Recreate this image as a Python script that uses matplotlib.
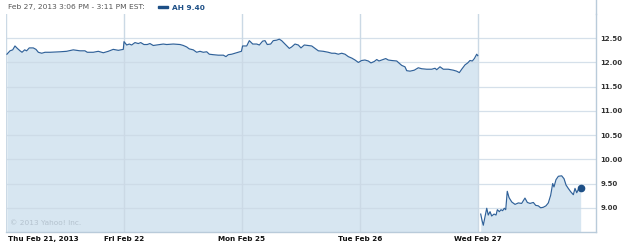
import matplotlib
matplotlib.use("Agg")
import matplotlib.pyplot as plt
from matplotlib.lines import Line2D
from matplotlib.patches import Rectangle

# ---- data ----
day_labels = ["Thu Feb 21, 2013", "Fri Feb 22", "Mon Feb 25", "Tue Feb 26", "Wed Feb 27"]
day_ticks = [0, 1, 2, 3, 4]
y_ticks = [9.00, 9.50, 10.00, 10.50, 11.00, 11.50, 12.00, 12.50]

# x = trading days since Thu open
thu_t = [0.008, 0.034, 0.057, 0.076, 0.096, 0.119, 0.136, 0.158, 0.175, 0.197,
         0.231, 0.254, 0.274, 0.303, 0.331, 0.373, 0.458, 0.514, 0.570, 0.627,
         0.669, 0.689, 0.740, 0.782, 0.825, 0.867, 0.909, 0.952, 0.994]
thu_p = [12.17, 12.24, 12.26, 12.34, 12.29, 12.24, 12.21, 12.26, 12.24, 12.30,
         12.30, 12.27, 12.21, 12.19, 12.21, 12.21, 12.22, 12.23, 12.26, 12.24,
         12.24, 12.21, 12.21, 12.23, 12.20, 12.23, 12.27, 12.25, 12.27]

fri_t = [1.000, 1.023, 1.045, 1.065, 1.093, 1.121, 1.142, 1.169, 1.197, 1.220,
         1.248, 1.277, 1.305, 1.333, 1.362, 1.418, 1.475, 1.503, 1.531, 1.553,
         1.587, 1.616, 1.644, 1.672, 1.701, 1.723, 1.757, 1.799, 1.842, 1.864,
         1.884, 1.913, 1.941, 1.983, 1.995]
fri_p = [12.43, 12.36, 12.38, 12.36, 12.41, 12.39, 12.41, 12.37, 12.37, 12.39,
         12.35, 12.36, 12.37, 12.38, 12.37, 12.38, 12.37, 12.35, 12.32, 12.28,
         12.26, 12.21, 12.23, 12.21, 12.22, 12.17, 12.16, 12.15, 12.15, 12.12,
         12.16, 12.17, 12.19, 12.22, 12.23]

mon_t = [2.005, 2.040, 2.062, 2.091, 2.125, 2.147, 2.175, 2.195, 2.214, 2.243,
         2.265, 2.294, 2.316, 2.336, 2.364, 2.401, 2.421, 2.449, 2.477, 2.500,
         2.528, 2.562, 2.591, 2.619, 2.647, 2.689, 2.731, 2.760, 2.788, 2.816,
         2.845, 2.873, 2.901, 2.930, 2.958, 2.986]
mon_p = [12.34, 12.34, 12.45, 12.38, 12.38, 12.36, 12.44, 12.45, 12.37, 12.38,
         12.45, 12.46, 12.48, 12.45, 12.38, 12.29, 12.32, 12.38, 12.36, 12.30,
         12.36, 12.35, 12.34, 12.29, 12.24, 12.23, 12.21, 12.19, 12.19, 12.17,
         12.19, 12.17, 12.12, 12.09, 12.05, 12.00]

tue_t = [3.014, 3.042, 3.070, 3.093, 3.121, 3.142, 3.161, 3.184, 3.218, 3.240,
         3.269, 3.311, 3.325, 3.353, 3.381, 3.396, 3.424, 3.460, 3.494, 3.523,
         3.565, 3.608, 3.636, 3.650, 3.678, 3.706, 3.748, 3.791, 3.819, 3.842,
         3.862, 3.890, 3.913, 3.932, 3.952, 3.969, 3.989, 3.998]
tue_p = [12.04, 12.05, 12.03, 11.99, 12.02, 12.06, 12.03, 12.05, 12.08, 12.05,
         12.04, 12.03, 12.00, 11.94, 11.91, 11.83, 11.82, 11.84, 11.89, 11.87,
         11.86, 11.86, 11.88, 11.85, 11.91, 11.86, 11.86, 11.84, 11.82, 11.79,
         11.86, 11.95, 11.99, 12.04, 12.03, 12.08, 12.17, 12.14]

wed_t = [4.023, 4.034, 4.045, 4.059, 4.074, 4.087, 4.102, 4.116, 4.136, 4.153,
         4.164, 4.181, 4.195, 4.209, 4.223, 4.235, 4.248, 4.263, 4.286, 4.314,
         4.342, 4.370, 4.398, 4.418, 4.441, 4.469, 4.489, 4.511, 4.531, 4.553,
         4.576, 4.596, 4.616, 4.633, 4.644, 4.661, 4.681, 4.709, 4.729, 4.746,
         4.765, 4.786, 4.808, 4.822, 4.837, 4.850, 4.870]
wed_p = [8.87, 8.74, 8.64, 8.81, 8.99, 8.85, 8.92, 8.83, 8.87, 8.85,
         8.96, 8.92, 8.96, 8.94, 8.99, 8.96, 9.34, 9.21, 9.12, 9.07,
         9.10, 9.09, 9.20, 9.11, 9.09, 9.11, 9.05, 9.04, 9.00, 9.01,
         9.04, 9.10, 9.26, 9.50, 9.43, 9.58, 9.65, 9.66, 9.60, 9.47,
         9.40, 9.33, 9.27, 9.40, 9.31, 9.38, 9.40]
last_price = 9.40

reg_t = thu_t + fri_t + mon_t + tue_t
reg_p = thu_p + fri_p + mon_p + tue_p

# ---- style ----
LINE = "#2f6199"
FILL = "#d7e6f1"
GRID = "#cbd9e5"
DOT = "#1d4f86"

W, H = 625, 245
fig = plt.figure(figsize=(W / 100, H / 100), dpi=100)
L, R, T, B = 6, 596, 14, 232
ax = fig.add_axes([L / W, 1 - B / H, (R - L) / W, (B - T) / H])

ax.set_xlim(0, 5)
ax.set_ylim(8.5, 13.0)

ax.fill_between(reg_t, reg_p, 8.5, color=FILL, lw=0, zorder=1)
ax.fill_between(wed_t, wed_p, 8.5, color=FILL, lw=0, zorder=1)

for v in y_ticks:
    ax.axhline(v, color=GRID, lw=0.9, zorder=2, alpha=0.8)
for d in day_ticks:
    ax.axvline(d, color=GRID, lw=1.0, zorder=2)

ax.plot(reg_t, reg_p, color=LINE, lw=0.85, zorder=3)
ax.plot(wed_t, wed_p, color=LINE, lw=0.85, zorder=3)
ax.plot([wed_t[-1]], [last_price], "o", color=DOT, ms=4.5, zorder=4)

for s in ["top", "left"]:
    ax.spines[s].set_visible(False)
for s in ["right", "bottom"]:
    ax.spines[s].set_color("#b9cbda")
    ax.spines[s].set_linewidth(1.0)
fig.add_artist(Line2D([R / W, R / W], [1 - T / H, 1.0], color="#b9cbda", lw=1.0,
                      transform=fig.transFigure))

ax.set_xticks(day_ticks)
ax.set_xticklabels([])
ax.tick_params(axis="x", length=0)
for i, (d, lab) in enumerate(zip(day_ticks, day_labels)):
    ax.annotate(lab, xy=(d, 0), xycoords=("data", "axes fraction"),
                xytext=(2 if i == 0 else 0, -6.5), textcoords="offset pixels",
                ha="left" if i == 0 else "center", va="center",
                fontsize=5.2, fontweight="bold", color="#111111")

ax.yaxis.tick_right()
ax.set_yticks(y_ticks)
ax.set_yticklabels([f"{v:.2f}" for v in y_ticks], fontsize=5.0, fontweight="bold",
                   color="#333333")
ax.tick_params(axis="y", length=0, pad=3)

fig.text(8 / W, 1 - 7.5 / H, "Feb 27, 2013 3:06 PM - 3:11 PM EST:", fontsize=5.4,
         color="#555555", ha="left", va="center")
fig.add_artist(Rectangle((158 / W, 1 - 8.5 / H), 10 / W, 2.5 / H, color=DOT,
                         transform=fig.transFigure))
fig.text(172 / W, 1 - 7.5 / H, f"AH {last_price:.2f}", fontsize=5.3, color=DOT,
         fontweight="bold", ha="left", va="center")

ax.text(4 / (R - L), 9 / (B - T), "\u00a9 2013 Yahoo! Inc.", transform=ax.transAxes,
        fontsize=5.3, color="#b4c2ce", ha="left", va="center", zorder=5)

fig.savefig("out.png", dpi=100)
